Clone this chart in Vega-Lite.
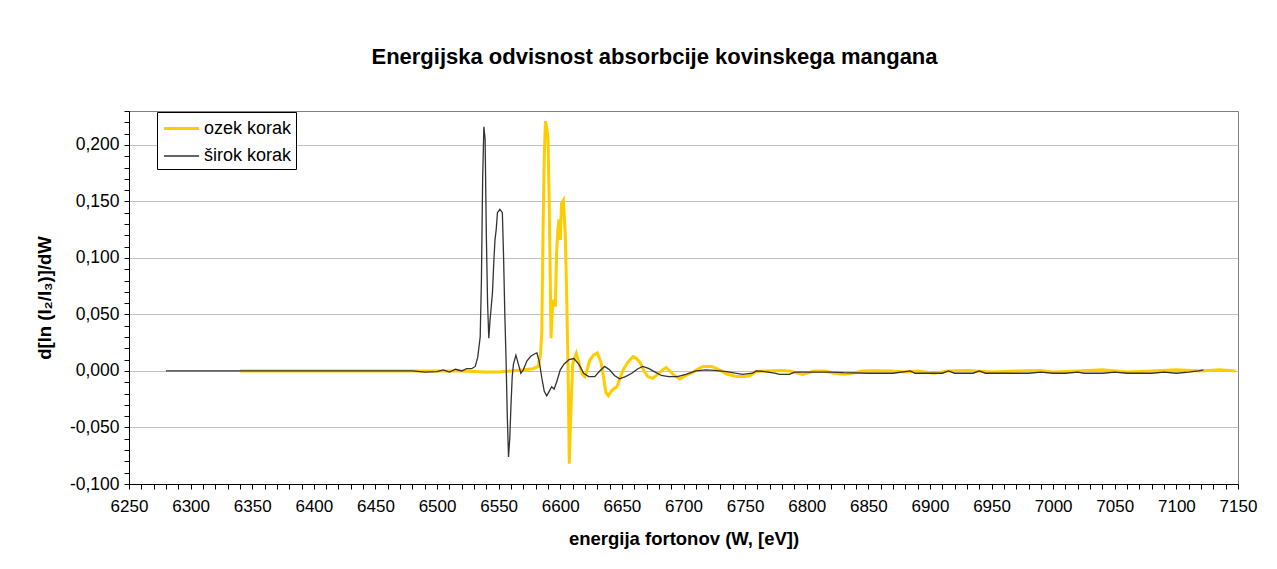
{
  "$schema": "https://vega.github.io/schema/vega-lite/v6.json",
  "width": 1109,
  "height": 373,
  "autosize": "none",
  "padding": {"left": 129, "top": 111, "right": 39, "bottom": 85},
  "background": "white",
  "title": {
    "text": "Energijska odvisnost absorbcije kovinskega mangana",
    "fontSize": 22,
    "fontWeight": "bold",
    "font": "Liberation Sans",
    "color": "black",
    "anchor": "middle",
    "frame": "group",
    "dx": -29,
    "offset": 33
  },
  "datasets": {
    "siroki": [
      {"s": "širok korak", "x": 6280, "y": 0}, {"s": "širok korak", "x": 6300, "y": 0}, {"s": "širok korak", "x": 6350, "y": 0}, {"s": "širok korak", "x": 6400, "y": 0}, {"s": "širok korak", "x": 6450, "y": 0},
      {"s": "širok korak", "x": 6480, "y": 0}, {"s": "širok korak", "x": 6490, "y": -0.001}, {"s": "širok korak", "x": 6500, "y": -0.0005}, {"s": "širok korak", "x": 6505, "y": 0.001},
      {"s": "širok korak", "x": 6510, "y": -0.001}, {"s": "širok korak", "x": 6515, "y": 0.0015}, {"s": "širok korak", "x": 6520, "y": 0}, {"s": "širok korak", "x": 6524, "y": 0.002},
      {"s": "širok korak", "x": 6528, "y": 0.002}, {"s": "širok korak", "x": 6531, "y": 0.004}, {"s": "širok korak", "x": 6533, "y": 0.012}, {"s": "širok korak", "x": 6535, "y": 0.03},
      {"s": "širok korak", "x": 6536, "y": 0.08}, {"s": "širok korak", "x": 6537, "y": 0.17}, {"s": "širok korak", "x": 6538, "y": 0.216}, {"s": "širok korak", "x": 6539, "y": 0.205},
      {"s": "širok korak", "x": 6540, "y": 0.12}, {"s": "širok korak", "x": 6541, "y": 0.06}, {"s": "širok korak", "x": 6542, "y": 0.029}, {"s": "širok korak", "x": 6543, "y": 0.045},
      {"s": "širok korak", "x": 6544, "y": 0.057}, {"s": "širok korak", "x": 6545, "y": 0.07}, {"s": "širok korak", "x": 6546, "y": 0.095}, {"s": "širok korak", "x": 6547, "y": 0.116},
      {"s": "širok korak", "x": 6548, "y": 0.125}, {"s": "širok korak", "x": 6549, "y": 0.14}, {"s": "širok korak", "x": 6551, "y": 0.143}, {"s": "širok korak", "x": 6553, "y": 0.14},
      {"s": "širok korak", "x": 6554, "y": 0.1}, {"s": "širok korak", "x": 6555, "y": 0.05}, {"s": "širok korak", "x": 6556, "y": 0.01}, {"s": "širok korak", "x": 6557, "y": -0.04},
      {"s": "širok korak", "x": 6558, "y": -0.076}, {"s": "širok korak", "x": 6559, "y": -0.06}, {"s": "širok korak", "x": 6560, "y": -0.03}, {"s": "širok korak", "x": 6561, "y": -0.005},
      {"s": "širok korak", "x": 6562, "y": 0.006}, {"s": "širok korak", "x": 6564, "y": 0.014}, {"s": "širok korak", "x": 6566, "y": 0.006}, {"s": "širok korak", "x": 6568, "y": -0.002},
      {"s": "širok korak", "x": 6570, "y": 0.001}, {"s": "širok korak", "x": 6573, "y": 0.009}, {"s": "širok korak", "x": 6576, "y": 0.013}, {"s": "širok korak", "x": 6579, "y": 0.015},
      {"s": "širok korak", "x": 6581, "y": 0.016}, {"s": "širok korak", "x": 6583, "y": 0.008}, {"s": "širok korak", "x": 6585, "y": -0.006}, {"s": "širok korak", "x": 6587, "y": -0.018},
      {"s": "širok korak", "x": 6589, "y": -0.022}, {"s": "širok korak", "x": 6591, "y": -0.018}, {"s": "širok korak", "x": 6593, "y": -0.014}, {"s": "širok korak", "x": 6595, "y": -0.016},
      {"s": "širok korak", "x": 6597, "y": -0.01}, {"s": "širok korak", "x": 6600, "y": 0.001}, {"s": "širok korak", "x": 6603, "y": 0.006}, {"s": "širok korak", "x": 6607, "y": 0.01},
      {"s": "širok korak", "x": 6611, "y": 0.011}, {"s": "širok korak", "x": 6615, "y": 0.006}, {"s": "širok korak", "x": 6619, "y": -0.002}, {"s": "širok korak", "x": 6623, "y": -0.005},
      {"s": "širok korak", "x": 6628, "y": -0.005}, {"s": "širok korak", "x": 6632, "y": 0.0}, {"s": "širok korak", "x": 6636, "y": 0.004}, {"s": "širok korak", "x": 6640, "y": 0.001},
      {"s": "širok korak", "x": 6644, "y": -0.004}, {"s": "širok korak", "x": 6648, "y": -0.007}, {"s": "širok korak", "x": 6653, "y": -0.005}, {"s": "širok korak", "x": 6658, "y": -0.002},
      {"s": "širok korak", "x": 6663, "y": 0.002}, {"s": "širok korak", "x": 6667, "y": 0.004}, {"s": "širok korak", "x": 6672, "y": 0.002}, {"s": "širok korak", "x": 6677, "y": -0.001},
      {"s": "širok korak", "x": 6682, "y": -0.004}, {"s": "širok korak", "x": 6688, "y": -0.005}, {"s": "širok korak", "x": 6695, "y": -0.005}, {"s": "širok korak", "x": 6702, "y": -0.003},
      {"s": "širok korak", "x": 6710, "y": 0}, {"s": "širok korak", "x": 6718, "y": 0.001}, {"s": "širok korak", "x": 6725, "y": 0.0005}, {"s": "širok korak", "x": 6735, "y": -0.0005},
      {"s": "širok korak", "x": 6742, "y": -0.002}, {"s": "širok korak", "x": 6748, "y": -0.003}, {"s": "širok korak", "x": 6756, "y": -0.002}, {"s": "širok korak", "x": 6759, "y": 0},
      {"s": "širok korak", "x": 6766, "y": -0.0005}, {"s": "širok korak", "x": 6774, "y": -0.002}, {"s": "širok korak", "x": 6778, "y": -0.003}, {"s": "širok korak", "x": 6786, "y": -0.003},
      {"s": "širok korak", "x": 6790, "y": -0.001}, {"s": "širok korak", "x": 6800, "y": -0.001}, {"s": "širok korak", "x": 6810, "y": -0.001}, {"s": "širok korak", "x": 6820, "y": -0.001},
      {"s": "širok korak", "x": 6830, "y": -0.0015}, {"s": "širok korak", "x": 6850, "y": -0.002}, {"s": "širok korak", "x": 6870, "y": -0.002}, {"s": "širok korak", "x": 6884, "y": 0},
      {"s": "širok korak", "x": 6888, "y": -0.002}, {"s": "širok korak", "x": 6900, "y": -0.002}, {"s": "širok korak", "x": 6910, "y": -0.002}, {"s": "širok korak", "x": 6915, "y": 0},
      {"s": "širok korak", "x": 6920, "y": -0.002}, {"s": "širok korak", "x": 6935, "y": -0.002}, {"s": "širok korak", "x": 6940, "y": 0}, {"s": "širok korak", "x": 6945, "y": -0.002},
      {"s": "širok korak", "x": 6960, "y": -0.002}, {"s": "širok korak", "x": 6980, "y": -0.002}, {"s": "širok korak", "x": 6990, "y": -0.001}, {"s": "širok korak", "x": 7000, "y": -0.002},
      {"s": "širok korak", "x": 7010, "y": -0.002}, {"s": "širok korak", "x": 7020, "y": -0.001}, {"s": "širok korak", "x": 7025, "y": -0.002}, {"s": "širok korak", "x": 7040, "y": -0.002},
      {"s": "širok korak", "x": 7050, "y": -0.001}, {"s": "širok korak", "x": 7060, "y": -0.002}, {"s": "širok korak", "x": 7080, "y": -0.002}, {"s": "širok korak", "x": 7090, "y": -0.001},
      {"s": "širok korak", "x": 7100, "y": -0.002}, {"s": "širok korak", "x": 7110, "y": -0.001}, {"s": "širok korak", "x": 7118, "y": 0}, {"s": "širok korak", "x": 7122, "y": 0.001}
    ],
    "ozki": [
      {"s": "ozek korak", "x": 6340, "y": 0}, {"s": "ozek korak", "x": 6400, "y": 0}, {"s": "ozek korak", "x": 6450, "y": 0}, {"s": "ozek korak", "x": 6500, "y": 0}, {"s": "ozek korak", "x": 6520, "y": 0},
      {"s": "ozek korak", "x": 6540, "y": -0.001}, {"s": "ozek korak", "x": 6550, "y": -0.001}, {"s": "ozek korak", "x": 6560, "y": 0}, {"s": "ozek korak", "x": 6570, "y": 0.001},
      {"s": "ozek korak", "x": 6578, "y": 0.002}, {"s": "ozek korak", "x": 6582, "y": 0.004}, {"s": "ozek korak", "x": 6584, "y": 0.015}, {"s": "ozek korak", "x": 6585, "y": 0.034},
      {"s": "ozek korak", "x": 6586, "y": 0.122}, {"s": "ozek korak", "x": 6587, "y": 0.19}, {"s": "ozek korak", "x": 6588, "y": 0.221}, {"s": "ozek korak", "x": 6589, "y": 0.215},
      {"s": "ozek korak", "x": 6590, "y": 0.207}, {"s": "ozek korak", "x": 6591, "y": 0.15}, {"s": "ozek korak", "x": 6592, "y": 0.07}, {"s": "ozek korak", "x": 6592.5, "y": 0.029},
      {"s": "ozek korak", "x": 6594, "y": 0.063}, {"s": "ozek korak", "x": 6596, "y": 0.057}, {"s": "ozek korak", "x": 6597, "y": 0.104}, {"s": "ozek korak", "x": 6598, "y": 0.125},
      {"s": "ozek korak", "x": 6599, "y": 0.134}, {"s": "ozek korak", "x": 6600, "y": 0.116}, {"s": "ozek korak", "x": 6601, "y": 0.148}, {"s": "ozek korak", "x": 6602.5, "y": 0.151},
      {"s": "ozek korak", "x": 6604, "y": 0.122}, {"s": "ozek korak", "x": 6605, "y": 0.078}, {"s": "ozek korak", "x": 6606, "y": 0.02}, {"s": "ozek korak", "x": 6606.5, "y": -0.011},
      {"s": "ozek korak", "x": 6607.3, "y": -0.082}, {"s": "ozek korak", "x": 6608.5, "y": -0.04}, {"s": "ozek korak", "x": 6610, "y": 0.005}, {"s": "ozek korak", "x": 6611, "y": 0.01},
      {"s": "ozek korak", "x": 6613, "y": 0.0156}, {"s": "ozek korak", "x": 6616, "y": 0.004}, {"s": "ozek korak", "x": 6618, "y": -0.003}, {"s": "ozek korak", "x": 6620, "y": -0.005},
      {"s": "ozek korak", "x": 6622, "y": 0.002}, {"s": "ozek korak", "x": 6624, "y": 0.0097}, {"s": "ozek korak", "x": 6627, "y": 0.014}, {"s": "ozek korak", "x": 6630, "y": 0.016},
      {"s": "ozek korak", "x": 6633, "y": 0.008}, {"s": "ozek korak", "x": 6635, "y": -0.005}, {"s": "ozek korak", "x": 6637, "y": -0.019}, {"s": "ozek korak", "x": 6639, "y": -0.022},
      {"s": "ozek korak", "x": 6642, "y": -0.017}, {"s": "ozek korak", "x": 6646, "y": -0.014}, {"s": "ozek korak", "x": 6648, "y": -0.008}, {"s": "ozek korak", "x": 6651, "y": 0.001},
      {"s": "ozek korak", "x": 6655, "y": 0.008}, {"s": "ozek korak", "x": 6659, "y": 0.0127}, {"s": "ozek korak", "x": 6662, "y": 0.011}, {"s": "ozek korak", "x": 6665, "y": 0.007},
      {"s": "ozek korak", "x": 6668, "y": 0.0}, {"s": "ozek korak", "x": 6671, "y": -0.005}, {"s": "ozek korak", "x": 6675, "y": -0.0065}, {"s": "ozek korak", "x": 6679, "y": -0.003},
      {"s": "ozek korak", "x": 6683, "y": 0.001}, {"s": "ozek korak", "x": 6686, "y": 0.003}, {"s": "ozek korak", "x": 6689, "y": 0.0}, {"s": "ozek korak", "x": 6692, "y": -0.0035},
      {"s": "ozek korak", "x": 6697, "y": -0.007}, {"s": "ozek korak", "x": 6702, "y": -0.004}, {"s": "ozek korak", "x": 6708, "y": -0.001}, {"s": "ozek korak", "x": 6712, "y": 0.002},
      {"s": "ozek korak", "x": 6716, "y": 0.004}, {"s": "ozek korak", "x": 6723, "y": 0.004}, {"s": "ozek korak", "x": 6730, "y": 0.0005}, {"s": "ozek korak", "x": 6735, "y": -0.0027},
      {"s": "ozek korak", "x": 6743, "y": -0.005}, {"s": "ozek korak", "x": 6750, "y": -0.005}, {"s": "ozek korak", "x": 6754, "y": -0.004}, {"s": "ozek korak", "x": 6759, "y": -0.0005},
      {"s": "ozek korak", "x": 6767, "y": 0}, {"s": "ozek korak", "x": 6778, "y": 0.0005}, {"s": "ozek korak", "x": 6786, "y": 0}, {"s": "ozek korak", "x": 6797, "y": -0.003},
      {"s": "ozek korak", "x": 6806, "y": 0}, {"s": "ozek korak", "x": 6815, "y": 0}, {"s": "ozek korak", "x": 6822, "y": -0.002}, {"s": "ozek korak", "x": 6830, "y": -0.003},
      {"s": "ozek korak", "x": 6837, "y": -0.002}, {"s": "ozek korak", "x": 6845, "y": 0}, {"s": "ozek korak", "x": 6854, "y": 0.0003}, {"s": "ozek korak", "x": 6868, "y": 0},
      {"s": "ozek korak", "x": 6880, "y": -0.001}, {"s": "ozek korak", "x": 6890, "y": 0}, {"s": "ozek korak", "x": 6903, "y": -0.002}, {"s": "ozek korak", "x": 6915, "y": 0},
      {"s": "ozek korak", "x": 6930, "y": 0.0005}, {"s": "ozek korak", "x": 6950, "y": -0.001}, {"s": "ozek korak", "x": 6970, "y": 0}, {"s": "ozek korak", "x": 6990, "y": 0.0005},
      {"s": "ozek korak", "x": 7000, "y": -0.001}, {"s": "ozek korak", "x": 7020, "y": 0}, {"s": "ozek korak", "x": 7040, "y": 0.001}, {"s": "ozek korak", "x": 7060, "y": -0.001},
      {"s": "ozek korak", "x": 7080, "y": 0}, {"s": "ozek korak", "x": 7100, "y": 0.001}, {"s": "ozek korak", "x": 7120, "y": 0}, {"s": "ozek korak", "x": 7135, "y": 0.001}, {"s": "ozek korak", "x": 7148, "y": 0}
    ]
  },
  "encoding": {
    "x": {
      "field": "x", "type": "quantitative",
      "scale": {"domain": [6250, 7150], "nice": false, "zero": false},
      "axis": {
        "title": "energija fortonov (W, [eV])",
        "values": [6250,6260,6270,6280,6290,6300,6310,6320,6330,6340,6350,6360,6370,6380,6390,6400,6410,6420,6430,6440,6450,6460,6470,6480,6490,6500,6510,6520,6530,6540,6550,6560,6570,6580,6590,6600,6610,6620,6630,6640,6650,6660,6670,6680,6690,6700,6710,6720,6730,6740,6750,6760,6770,6780,6790,6800,6810,6820,6830,6840,6850,6860,6870,6880,6890,6900,6910,6920,6930,6940,6950,6960,6970,6980,6990,7000,7010,7020,7030,7040,7050,7060,7070,7080,7090,7100,7110,7120,7130,7140,7150],
        "format": "d",
        "labelExpr": "datum.value % 50 === 0 ? datum.label : ''",
        "labelOverlap": false,
        "labelFlush": false,
        "grid": false,
        "labelPadding": 9,
        "titlePadding": 15
      }
    },
    "y": {
      "field": "y", "type": "quantitative",
      "scale": {"domain": [-0.1, 0.23], "nice": false, "zero": false},
      "axis": {
        "title": "d[ln (I₂/I₃)]/dW",
        "values": [-0.1,-0.09,-0.08,-0.07,-0.06,-0.05,-0.04,-0.03,-0.02,-0.01,0,0.01,0.02,0.03,0.04,0.05,0.06,0.07,0.08,0.09,0.1,0.11,0.12,0.13,0.14,0.15,0.16,0.17,0.18,0.19,0.2,0.21,0.22,0.23],
        "format": ".3f",
        "labelExpr": "abs(round(datum.value*1000)) % 50 === 0 ? datum.label : ''",
        "labelOverlap": false,
        "labelFlush": false,
        "labelFontSize": 17.5,
        "grid": true,
        "gridColor": "#c0c0c0",
        "gridOpacity": {"condition": {"test": "abs(round(datum.value*1000)) % 50 === 0", "value": 1}, "value": 0},
        "labelPadding": 5,
        "titlePadding": 15
      }
    },
    "color": {
      "field": "s", "type": "nominal",
      "scale": {"domain": ["ozek korak", "širok korak"], "range": ["#FFCC00", "#333333"]},
      "legend": {
        "title": null,
        "orient": "none",
        "legendX": 28,
        "legendY": 1,
        "strokeColor": "black",
        "fillColor": "white",
        "padding": 4,
        "symbolType": "M-1.6,0H1.6",
        "symbolSize": 484,
        "symbolOffset": 8,
        "labelFontSize": 18,
        "labelColor": "black",
        "labelOffset": 10,
        "rowPadding": 6
      }
    },
    "strokeWidth": {
      "field": "s", "type": "nominal",
      "scale": {"domain": ["ozek korak", "širok korak"], "range": [3, 1.3]},
      "legend": {
        "title": null,
        "orient": "none",
        "legendX": 28,
        "legendY": 1,
        "strokeColor": "black",
        "fillColor": "white",
        "padding": 4,
        "symbolType": "M-1.6,0H1.6",
        "symbolSize": 484,
        "symbolOffset": 8,
        "labelFontSize": 18,
        "labelColor": "black",
        "labelOffset": 10,
        "rowPadding": 6
      }
    }
  },
  "layer": [
    {
      "data": {"name": "ozki"},
      "mark": {"type": "line", "interpolate": "linear"}
    },
    {
      "data": {"name": "siroki"},
      "mark": {"type": "line", "interpolate": "linear"}
    }
  ],
  "config": {
    "font": "Liberation Sans",
    "locale": {
      "number": {"decimal": ",", "thousands": ".", "grouping": [3], "currency": ["", " €"], "minus": "-"}
    },
    "view": {"stroke": "#808080", "strokeWidth": 1},
    "axis": {
      "domainColor": "black",
      "domainWidth": 1,
      "tickColor": "black",
      "tickSize": 5,
      "tickWidth": 1,
      "labelFontSize": 17,
      "labelColor": "black",
      "labelFont": "Liberation Sans",
      "titleFontSize": 18.5,
      "titleFontWeight": "bold",
      "titleColor": "black",
      "titleFont": "Liberation Sans"
    },
    "legend": {"labelFont": "Liberation Sans"}
  }
}
